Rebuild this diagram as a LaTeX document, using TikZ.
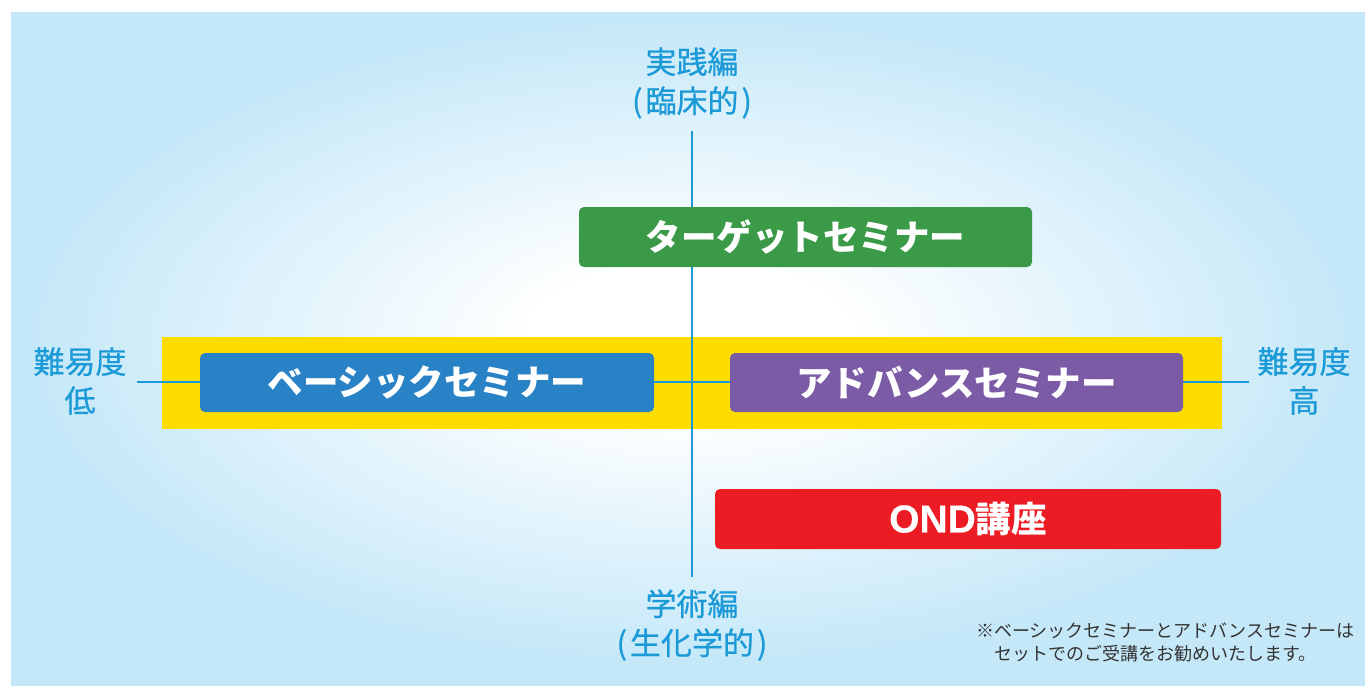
\documentclass[tikz,border=0pt]{standalone}
\usepackage{fontspec}
\setmainfont{Noto Sans CJK JP}
\newfontfamily\labelfont{Noto Sans CJK JP}[FakeBold=0.6]
\newfontfamily\latinbold{Liberation Sans}[FakeBold=0.3]
\definecolor{bgblue}{HTML}{C5E8F8}
\definecolor{axisblue}{HTML}{1B9AD7}
\definecolor{ybg}{HTML}{FDDC00}
\definecolor{gbox}{HTML}{3A9A47}
\definecolor{bbox}{HTML}{2A82C6}
\definecolor{pbox}{HTML}{7B5BA6}
\definecolor{rbox}{HTML}{EC1C24}
\definecolor{notegray}{HTML}{333333}
\pgfdeclareradialshading{bgglow}{\pgfpoint{0bp}{0bp}}{color(0bp)=(white); color(6bp)=(white); color(25bp)=(bgblue); color(50bp)=(bgblue)}
\begin{document}
\begin{tikzpicture}[x=1pt,y=-1pt,
  seminar/.style={fill=#1, rounded corners=5pt, text=white, font=\fontsize{35.5}{40}\selectfont\bfseries, inner sep=0pt},
  axislabel/.style={text=axisblue, font=\fontsize{31}{39}\labelfont, align=center, inner sep=0pt},
  axisline/.style={draw=axisblue, line width=2.3pt}]
\useasboundingbox (0,0) rectangle (1365,686);
\fill[bgblue] (11,12) rectangle (1365,686);
\begin{scope}
  \clip (11,12) rectangle (1365,686);
  \shade[shading=bgglow] (30,20) rectangle (1350,660);
\end{scope}
\node[fill=ybg, minimum width=1060pt, minimum height=92pt, inner sep=0pt] (band) at (692,383) {};
\node[axislabel] (top) at (692,83) {実践編\\(\kern3pt 臨床的\kern3pt)};
\node[axislabel] (bottom) at (692,625) {学術編\\(\kern3pt 生化学的\kern3pt)};
\node[axislabel] (left) at (80,381) {難易度\\低};
\node[axislabel] (right) at (1304,381) {難易度\\高};
\draw[axisline, shorten <=12pt, shorten >=12pt] (top.south) -- (bottom.north);
\draw[axisline, shorten <=10pt, shorten >=8pt] (left.east |- 0,382) coordinate (hl) -- (right.west |- 0,382) coordinate (hr);
\node[seminar=gbox, minimum width=453pt, minimum height=60pt] (target) at (805.5,237) {ターゲットセミナー};
\node[seminar=bbox, minimum width=454pt, minimum height=59pt] (basic) at (427,382.5) {ベーシックセミナー};
\node[seminar=pbox, minimum width=453pt, minimum height=59pt] (advance) at (956.5,382.5) {アドバンスセミナー};
\node[seminar=rbox, minimum width=506pt, minimum height=60pt] (ond) at (968,519) {{\latinbold\fontsize{39}{40}\selectfont OND}講座};
\node[anchor=north west, text=notegray, font=\fontsize{18}{23}\selectfont, align=left, inner sep=0pt] (note) at (976,623) {※ベーシックセミナーとアドバンスセミナーは\\\hspace*{1em}セットでのご受講をお勧めいたします。};
\end{tikzpicture}
\end{document}
